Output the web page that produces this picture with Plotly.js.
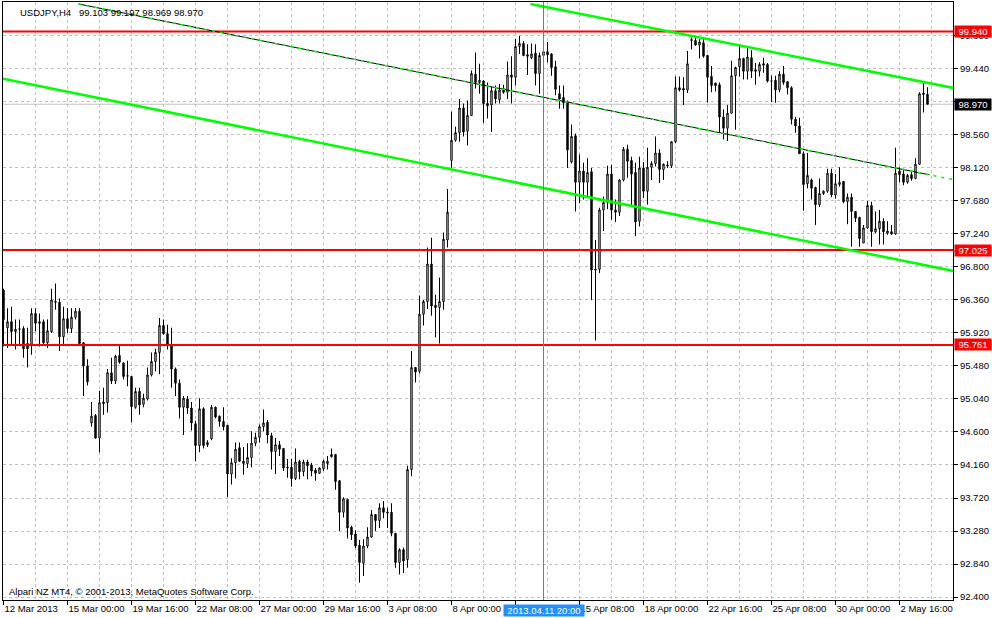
<!DOCTYPE html>
<html>
<head>
<meta charset="utf-8">
<script src="https://cdn.plot.ly/plotly-3.0.1.min.js"></script>
<style>
  html, body { margin: 0; padding: 0; background: #ffffff; }
  #chart { width: 992px; height: 618px; }
</style>
</head>
<body>
<div id="chart"></div>
<script>
// USDJPY H4, one row per bar, bar 0 = 12 Mar 2013 08:00
const bars = [
  [96.49, 96.51, 95.74, 96.10], [95.99, 96.25, 95.72, 96.07], [96.07, 96.27, 95.77, 95.94], [95.94, 96.10, 95.70, 95.97],
  [95.97, 96.10, 95.77, 95.975], [95.98, 96.01, 95.59, 95.71], [95.78, 95.99, 95.46, 95.71], [95.77, 96.25, 95.63, 96.18],
  [96.18, 96.25, 95.94, 96.05], [96.07, 96.18, 95.74, 96.05], [96.07, 96.10, 95.77, 95.79], [95.79, 96.10, 95.72, 95.95],
  [95.94, 96.51, 95.92, 96.36], [96.34, 96.58, 96.23, 96.33], [96.33, 96.38, 95.68, 95.87], [95.87, 96.27, 95.77, 96.11],
  [96.11, 96.25, 95.92, 95.98], [95.98, 96.25, 95.92, 96.13], [96.13, 96.25, 96.10, 96.21], [96.21, 96.25, 95.77, 95.78],
  [95.79, 95.80, 95.08, 95.48], [95.48, 95.57, 95.22, 95.27], [94.72, 95.00, 94.67, 94.81], [94.82, 94.84, 94.51, 94.52],
  [94.52, 95.15, 94.33, 94.99], [95.00, 95.19, 94.83, 94.98], [94.99, 95.44, 94.86, 95.39], [95.39, 95.59, 95.24, 95.28],
  [95.28, 95.63, 95.24, 95.61], [95.62, 95.75, 95.51, 95.53], [95.52, 95.53, 95.30, 95.34], [95.35, 95.55, 95.21, 95.345],
  [95.34, 95.34, 94.73, 94.94], [94.93, 95.19, 94.91, 95.14], [95.14, 95.19, 94.83, 94.96], [94.97, 95.11, 94.93, 95.05],
  [95.04, 95.46, 95.02, 95.36], [95.36, 95.66, 95.34, 95.54], [95.54, 95.71, 95.41, 95.66], [95.66, 96.12, 95.37, 96.02],
  [96.02, 96.10, 95.90, 95.91], [95.91, 96.03, 95.70, 95.77], [95.77, 95.99, 95.19, 95.44], [95.44, 95.46, 95.08, 95.25],
  [95.25, 95.30, 94.78, 94.93], [94.93, 95.08, 94.56, 95.05], [95.04, 95.08, 94.84, 94.92], [94.92, 95.00, 94.62, 94.72],
  [94.71, 94.75, 94.21, 94.42], [94.42, 95.05, 94.33, 94.91], [94.91, 94.93, 94.38, 94.42], [94.43, 94.49, 94.40, 94.46],
  [94.51, 94.96, 94.49, 94.93], [94.93, 94.94, 94.78, 94.80], [94.81, 94.82, 94.67, 94.74], [94.74, 94.93, 94.62, 94.67],
  [94.69, 94.69, 93.73, 94.04], [94.04, 94.25, 93.90, 94.19], [94.19, 94.46, 93.98, 94.37], [94.39, 94.46, 94.20, 94.21],
  [94.21, 94.40, 94.03, 94.18], [94.18, 94.45, 94.12, 94.26], [94.26, 94.61, 94.13, 94.45], [94.45, 94.59, 94.41, 94.53],
  [94.53, 94.70, 94.46, 94.67], [94.67, 94.90, 94.61, 94.72], [94.73, 94.76, 94.45, 94.56], [94.55, 94.59, 94.10, 94.34],
  [94.34, 94.52, 94.04, 94.43], [94.43, 94.48, 94.28, 94.37], [94.38, 94.38, 94.08, 94.12], [94.12, 94.24, 93.99, 94.13],
  [94.13, 94.24, 93.87, 93.98], [93.98, 94.38, 93.96, 94.20], [94.21, 94.23, 93.97, 94.07], [94.07, 94.23, 94.01, 94.20],
  [94.20, 94.23, 93.97, 94.15], [94.16, 94.19, 94.01, 94.08], [94.09, 94.12, 93.95, 94.05], [94.05, 94.13, 94.04, 94.12],
  [94.11, 94.23, 94.08, 94.21], [94.18, 94.28, 94.10, 94.21], [94.27, 94.38, 94.26, 94.30], [94.30, 94.30, 93.83, 93.94],
  [93.95, 93.96, 93.28, 93.53], [93.53, 93.73, 93.46, 93.71], [93.70, 93.71, 93.18, 93.32], [93.33, 93.35, 93.16, 93.23],
  [93.24, 93.29, 93.05, 93.08], [93.09, 93.16, 92.59, 92.86], [92.85, 93.17, 92.68, 93.08], [93.08, 93.33, 93.05, 93.20],
  [93.20, 93.56, 93.19, 93.50], [93.50, 93.50, 93.28, 93.42], [93.42, 93.65, 93.32, 93.59], [93.59, 93.68, 93.45, 93.53],
  [93.53, 93.59, 93.32, 93.52], [93.53, 93.65, 93.21, 93.25], [93.25, 93.25, 92.79, 92.86], [92.86, 93.05, 92.70, 93.03],
  [93.03, 93.06, 92.72, 92.88], [92.90, 94.15, 92.79, 94.10], [94.10, 95.68, 94.01, 95.46], [95.46, 95.46, 95.26, 95.40],
  [95.41, 96.42, 95.38, 96.17], [96.17, 96.36, 96.02, 96.34], [96.34, 97.06, 96.24, 96.84], [96.84, 97.19, 96.15, 96.28],
  [96.29, 96.43, 95.86, 96.26], [96.26, 96.66, 95.78, 96.34], [96.34, 97.26, 96.23, 97.17], [97.16, 97.84, 97.06, 97.53],
  [98.22, 98.87, 98.12, 98.49], [98.49, 98.67, 98.47, 98.59], [98.59, 99.04, 98.47, 98.92], [98.92, 98.98, 98.54, 98.60],
  [98.61, 99.02, 98.42, 98.82], [98.82, 99.42, 98.82, 99.38], [99.37, 99.66, 99.18, 99.26], [99.26, 99.51, 99.11, 99.29],
  [99.28, 99.29, 98.72, 98.98], [98.98, 99.26, 98.78, 98.95], [98.96, 99.20, 98.60, 99.15], [99.15, 99.22, 98.98, 99.04],
  [99.03, 99.24, 98.98, 99.16], [99.18, 99.23, 99.11, 99.13], [99.13, 99.54, 99.04, 99.36], [99.36, 99.61, 98.98, 99.33],
  [99.33, 99.84, 99.22, 99.74], [99.74, 99.88, 99.64, 99.78], [99.78, 99.81, 99.61, 99.62], [99.63, 99.77, 99.36, 99.61],
  [99.59, 99.78, 99.57, 99.64], [99.65, 99.77, 99.22, 99.38], [99.38, 99.66, 99.11, 99.62], [99.62, 99.68, 99.59, 99.67],
  [99.67, 99.80, 99.53, 99.63], [99.64, 99.65, 99.35, 99.46], [99.47, 99.55, 99.09, 99.17], [99.11, 99.22, 98.91, 99.04],
  [99.06, 99.22, 98.91, 98.99], [98.99, 99.02, 98.12, 98.36], [98.20, 98.70, 98.18, 98.54], [98.55, 98.58, 97.54, 97.93],
  [97.93, 98.30, 97.65, 98.08], [98.08, 98.19, 97.70, 97.93], [97.93, 98.25, 97.74, 98.06], [98.07, 98.12, 96.36, 96.76],
  [96.77, 97.16, 95.82, 96.76], [96.77, 97.59, 96.72, 97.56], [97.56, 97.74, 97.28, 97.66], [97.66, 98.15, 97.57, 98.04],
  [98.04, 98.16, 97.43, 97.56], [97.56, 97.70, 97.40, 97.53], [97.53, 97.97, 97.48, 97.96], [97.96, 98.40, 97.94, 98.37],
  [98.37, 98.43, 97.99, 98.21], [98.22, 98.27, 97.61, 98.04], [98.06, 98.19, 97.21, 97.40], [97.41, 98.27, 97.34, 98.12],
  [98.12, 98.20, 97.72, 97.81], [97.81, 98.39, 97.63, 98.13], [98.13, 98.21, 97.96, 98.18], [98.18, 98.54, 98.14, 98.32],
  [98.32, 98.37, 97.92, 98.10], [98.10, 98.18, 97.96, 98.17], [98.16, 98.21, 98.12, 98.15], [98.15, 98.47, 98.12, 98.47],
  [98.47, 99.34, 98.45, 99.19], [99.19, 99.34, 99.14, 99.16], [99.18, 99.33, 98.96, 99.16], [99.16, 99.68, 99.12, 99.51],
  [99.82, 99.86, 99.70, 99.83], [99.82, 99.86, 99.75, 99.76], [99.76, 99.84, 99.58, 99.80], [99.79, 99.84, 99.59, 99.61],
  [99.62, 99.63, 98.99, 99.33], [99.34, 99.48, 99.13, 99.22], [99.25, 99.26, 99.14, 99.22], [99.23, 99.26, 98.59, 98.80],
  [98.80, 98.90, 98.50, 98.65], [98.65, 98.96, 98.48, 98.85], [98.85, 99.55, 98.85, 99.35], [99.35, 99.47, 98.63, 99.46],
  [99.47, 99.77, 99.34, 99.58], [99.58, 99.59, 99.30, 99.41], [99.41, 99.72, 99.30, 99.60], [99.59, 99.69, 99.32, 99.41],
  [99.43, 99.52, 99.23, 99.41], [99.41, 99.53, 99.34, 99.50], [99.51, 99.59, 99.39, 99.49], [99.50, 99.52, 99.26, 99.28],
  [99.28, 99.35, 99.00, 99.28], [99.29, 99.35, 98.99, 99.16], [99.16, 99.41, 99.13, 99.37], [99.37, 99.48, 99.23, 99.26],
  [99.27, 99.28, 99.10, 99.19], [99.19, 99.21, 98.70, 98.77], [98.77, 98.80, 98.59, 98.68], [98.68, 98.79, 98.31, 98.31],
  [98.31, 98.34, 97.55, 97.90], [97.91, 98.32, 97.85, 98.02], [97.96, 97.98, 97.70, 97.85], [97.86, 97.87, 97.36, 97.63],
  [97.63, 97.98, 97.60, 97.78], [97.78, 97.82, 97.76, 97.81], [97.81, 98.11, 97.79, 98.05], [98.05, 98.11, 97.73, 97.76],
  [97.76, 98.04, 97.71, 97.91], [97.90, 98.13, 97.87, 97.93], [97.94, 97.94, 97.65, 97.67], [97.67, 97.78, 97.37, 97.73],
  [97.73, 97.78, 97.07, 97.54], [97.54, 97.54, 97.40, 97.45], [97.46, 97.47, 97.07, 97.18], [97.12, 97.36, 97.12, 97.32],
  [97.32, 97.68, 97.31, 97.62], [97.62, 97.67, 97.07, 97.27], [97.27, 97.54, 97.25, 97.31], [97.31, 97.56, 97.10, 97.41],
  [97.41, 97.45, 97.10, 97.27], [97.25, 97.41, 97.23, 97.28], [97.27, 97.36, 97.23, 97.24], [97.24, 98.39, 97.23, 98.05],
  [98.08, 98.13, 97.93, 98.03], [98.04, 98.11, 97.89, 97.93], [97.93, 98.04, 97.91, 98.02], [98.03, 98.08, 97.95, 97.98],
  [97.98, 98.25, 97.97, 98.17], [98.17, 99.13, 98.16, 99.11], [99.10, 99.25, 98.86, 99.12], [99.103, 99.197, 98.969, 98.970]
];

// the 10 Apr 16:00 label sits fully under the crosshair date box
const dateTickBars = [0, 16, 32, 48, 64, 80, 96, 112, 128, 144, 160, 176, 192, 208, 224];
const dateTickText = ['12 Mar 2013', '15 Mar 00:00', '19 Mar 16:00', '22 Mar 08:00', '27 Mar 00:00',
  '29 Mar 16:00', '3 Apr 08:00', '8 Apr 00:00', '', '15 Apr 08:00', '18 Apr 00:00',
  '22 Apr 16:00', '25 Apr 08:00', '30 Apr 00:00', '2 May 16:00'];

// price grid every 0.44, label hidden where the bid box sits on top of it
const priceTicks = [92.40, 92.84, 93.28, 93.72, 94.16, 94.60, 95.04, 95.48, 95.92, 96.36,
  96.80, 97.24, 97.68, 98.12, 98.56, 99.00, 99.44, 99.88];
const priceTickText = priceTicks.map(p => (p === 99.00 ? '' : p.toFixed(3)));

const levels = [99.940, 97.025, 95.761];
const bidPrice = 98.970;
const crossBar = 135;
const crossLabel = '2013.04.11 20:00';

// trend lines: [bar, price] end points
const channelUpper = [[131.75, 100.307], [237.5, 99.187]];
const channelLower = [[-0.125, 99.31], [237.5, 96.747]];
const channelMid = [[18.75, 100.307], [237.5, 97.965]];

const idx = bars.map((_, i) => i);
const lastBar = bars.length - 1;

const trace = {
  type: 'candlestick',
  x: idx,
  open: bars.map(b => b[0]),
  high: bars.map(b => b[1]),
  low: bars.map(b => b[2]),
  close: bars.map(b => b[3]),
  increasing: { line: { color: '#000000', width: 1 }, fillcolor: '#ffffff' },
  decreasing: { line: { color: '#000000', width: 1 }, fillcolor: '#000000' },
  whiskerwidth: 0,
  hoverinfo: 'skip',
  showlegend: false
};

const font = 'Liberation Sans, Arial, sans-serif';
const fsize = 9.5;

const shapes = [];
// bid line
shapes.push({ type: 'line', xref: 'paper', x0: 0, x1: 1, yref: 'y', y0: bidPrice, y1: bidPrice,
  line: { color: '#c0c0c0', width: 1 }, layer: 'below' });
levels.forEach(p => shapes.push({ type: 'line', xref: 'paper', x0: 0, x1: 1, yref: 'y', y0: p, y1: p,
  line: { color: '#ff0000', width: 2 } }));
[channelUpper, channelLower].forEach(l => shapes.push({ type: 'line', xref: 'x', yref: 'y',
  x0: l[0][0], y0: l[0][1], x1: l[1][0], y1: l[1][1], line: { color: '#00ff00', width: 2.5 } }));
// middle line: solid black up to last bar, green dots all along
const midAt = x => channelMid[0][1] + (x - channelMid[0][0]) *
  (channelMid[1][1] - channelMid[0][1]) / (channelMid[1][0] - channelMid[0][0]);
shapes.push({ type: 'line', xref: 'x', yref: 'y', x0: channelMid[0][0], y0: channelMid[0][1],
  x1: lastBar + 0.5, y1: midAt(lastBar + 0.5), line: { color: '#000000', width: 1 } });
shapes.push({ type: 'line', xref: 'x', yref: 'y', x0: channelMid[0][0], y0: channelMid[0][1],
  x1: channelMid[1][0], y1: channelMid[1][1], line: { color: '#00ff00', width: 1.5, dash: '3px,5px' } });
// crosshair
shapes.push({ type: 'line', xref: 'x', yref: 'paper', x0: crossBar, x1: crossBar, y0: 0, y1: 1,
  line: { color: '#1e90ff', width: 1 } });

const priceBox = (p, bg) => ({
  xref: 'paper', x: 1, xanchor: 'left', xshift: 1, yref: 'y', y: p, yanchor: 'middle',
  text: p.toFixed(3), showarrow: false, bgcolor: bg, width: 36, height: 11, borderpad: 0,
  font: { family: font, size: fsize, color: '#ffffff' }
});

const annotations = levels.map(p => priceBox(p, '#ff0000'));
annotations.push(priceBox(bidPrice, '#000000'));
annotations.push({
  xref: 'x', x: crossBar, xanchor: 'center', yref: 'paper', y: 0, yanchor: 'top', yshift: -4,
  text: crossLabel, showarrow: false, bgcolor: '#1e90ff', width: 80, height: 11, borderpad: 0,
  font: { family: font, size: fsize, color: '#ffffff' }
});
annotations.push({
  xref: 'paper', x: 0.016, xanchor: 'left', yref: 'paper', y: 1, yanchor: 'top', yshift: -3,
  text: 'USDJPY,H4\u00a0\u00a0 99.103 99.197 98.969 98.970', showarrow: false,
  font: { family: font, size: fsize, color: '#000000' }
});
annotations.push({
  xref: 'paper', x: 0.004, xanchor: 'left', yref: 'paper', y: 0, yanchor: 'bottom', yshift: 1,
  text: 'Alpari NZ MT4, © 2001-2013, MetaQuotes Software Corp.', showarrow: false,
  font: { family: font, size: fsize, color: '#000000' }
});

const minorBars = dateTickBars.map(b => b + 8);

const layout = {
  width: 992,
  height: 618,
  margin: { l: 3, r: 39, t: 2, b: 18 },
  paper_bgcolor: '#ffffff',
  plot_bgcolor: '#ffffff',
  showlegend: false,
  hovermode: false,
  dragmode: false,
  boxgap: 0.5,
  xaxis: {
    range: [-0.125, 237.375],
    rangeslider: { visible: false },
    tickmode: 'array',
    tickvals: dateTickBars,
    ticktext: dateTickText,
    tickangle: 0,
    ticklabelposition: 'outside right',
    ticks: 'outside', ticklen: 4, tickcolor: '#000000',
    tickfont: { family: font, size: fsize, color: '#000000' },
    showgrid: true, gridcolor: '#c0c0c0', griddash: '3px,3px', gridwidth: 1,
    minor: { tickmode: 'array', tickvals: minorBars, showgrid: true, gridcolor: '#c0c0c0',
      griddash: '3px,3px', gridwidth: 1, ticks: '' },
    showline: true, linecolor: '#000000', linewidth: 1, mirror: true,
    zeroline: false, fixedrange: true, automargin: false
  },
  yaxis: {
    side: 'right',
    range: [92.36, 100.333],
    tickmode: 'array', tickvals: priceTicks, ticktext: priceTickText,
    ticks: 'outside', ticklen: 4, tickcolor: '#000000',
    tickfont: { family: font, size: fsize, color: '#000000' },
    showgrid: true, gridcolor: '#c0c0c0', griddash: '3px,3px', gridwidth: 1,
    showline: true, linecolor: '#000000', linewidth: 1, mirror: true,
    zeroline: false, fixedrange: true, automargin: false
  },
  shapes: shapes,
  annotations: annotations
};

Plotly.newPlot('chart', [trace], layout, { displayModeBar: false, staticPlot: true });
</script>
</body>
</html>
